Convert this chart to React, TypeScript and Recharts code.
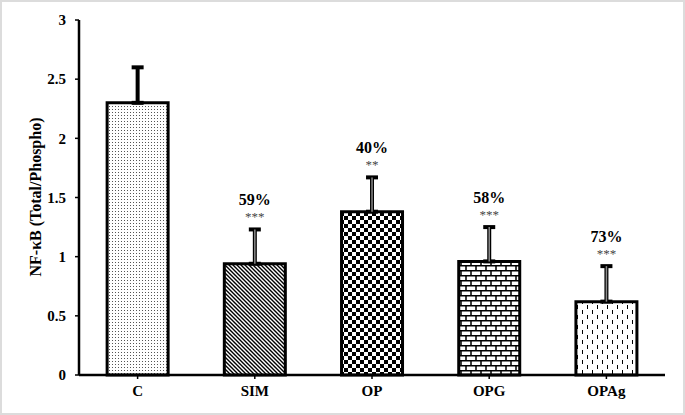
import { ComposedChart, Bar, Line, XAxis, YAxis, ErrorBar, Cell, LabelList, Label } from "recharts";

const groups = ["C", "SIM", "OP", "OPG", "OPAg"];
const means = [2.3, 0.94, 1.38, 0.96, 0.62];
const sems = [0.3, 0.29, 0.29, 0.29, 0.3];
const reductions = ["", "59%", "40%", "58%", "73%"];
const stars = ["", "***", "**", "***", "***"];
const yTicks = [0, 0.5, 1, 1.5, 2, 2.5, 3];

const patternIds = ["dots", "diag", "checks", "bricks", "dashes"];

const data = groups.map((g, i) => ({
  group: g,
  mean: means[i],
  err: [0, sems[i]],
  // grey core for the treated groups, control bar has a plain black one
  errCore: i === 0 ? [0, 0] : [0, sems[i]],
  top: means[i] + sems[i],
  pct: reductions[i],
  stars: stars[i],
}));

const FONT = "'Liberation Serif', 'Times New Roman', serif";

function SigLabel(props: any) {
  const { x, y, index } = props;
  const d = data[index];
  if (!d || !d.pct) return null;
  return (
    <g>
      <text x={x} y={y - 30} textAnchor="middle" dominantBaseline="central" fontFamily={FONT} fontWeight="bold" fontSize={16} fill="#000">
        {d.pct}
      </text>
      <text x={x} y={y - 13} textAnchor="middle" dominantBaseline="central" fontFamily={FONT} fontSize={13} fill="#444">
        {d.stars}
      </text>
    </g>
  );
}

export default function App() {
  return (
    <div style={{ position: "fixed", left: 0, top: 0, width: 685, height: 415, background: "#fff" }}>
      <ComposedChart width={685} height={415} data={data} margin={{ top: 20, right: 20, bottom: 10, left: 0 }} barCategoryGap="24%">
        <defs>
          <pattern id="dots" patternUnits="userSpaceOnUse" width={3} height={3}>
            <rect width={3} height={3} fill="#fff" />
            <rect x={1} y={1} width={1} height={1} fill="#555" />
          </pattern>
          <pattern id="diag" patternUnits="userSpaceOnUse" width={4} height={4}>
            <rect width={4} height={4} fill="#fff" />
            <path d="M-1,-1 L5,5 M3,-1 L5,1 M-1,3 L1,5" stroke="#000" strokeWidth={1.4} />
          </pattern>
          <pattern id="checks" patternUnits="userSpaceOnUse" width={8} height={8}>
            <rect width={8} height={8} fill="#fff" />
            <rect x={0} y={0} width={4} height={4} fill="#000" />
            <rect x={4} y={4} width={4} height={4} fill="#000" />
          </pattern>
          <pattern id="bricks" patternUnits="userSpaceOnUse" width={10} height={10}>
            <rect width={10} height={10} fill="#fff" />
            <path d="M0,0.75 H10 M0,5.75 H10 M1,0 V5 M6,5 V10" stroke="#000" strokeWidth={1.5} />
          </pattern>
          <pattern id="dashes" patternUnits="userSpaceOnUse" width={10} height={10}>
            <rect width={10} height={10} fill="#fff" />
            <path d="M2.5,0 V4 M7.5,5 V9" stroke="#000" strokeWidth={1} />
          </pattern>
        </defs>
        <XAxis
          dataKey="group"
          axisLine={{ stroke: "#000", strokeWidth: 2.5 }}
          tickLine={{ stroke: "#000", strokeWidth: 1.5 }}
          tickSize={4}
          tickMargin={6}
          tick={{ fill: "#000", fontFamily: FONT, fontWeight: "bold", fontSize: 15 }}
        />
        <YAxis
          width={79}
          domain={[0, 3]}
          ticks={yTicks}
          interval={0}
          axisLine={{ stroke: "#000", strokeWidth: 2.5 }}
          tickLine={{ stroke: "#000", strokeWidth: 1.5 }}
          tickSize={4}
          tickMargin={9}
          tick={{ fill: "#000", fontFamily: FONT, fontWeight: "bold", fontSize: 15 }}
        >
          <Label
            content={() => (
              <text x={35} y={197} transform="rotate(-90 35 197)" textAnchor="middle" dominantBaseline="central" fontFamily={FONT} fontWeight="bold" fontSize={16} fill="#000">
                NF-κB (Total/Phospho)
              </text>
            )}
          />
        </YAxis>
        <Bar dataKey="mean" stroke="#000" strokeWidth={3} isAnimationActive={false}>
          {data.map((d, i) => (
            <Cell key={d.group} fill={`url(#${patternIds[i]})`} />
          ))}
          <ErrorBar dataKey="err" width={6} stroke="#000" strokeWidth={4} direction="y" />
          <ErrorBar dataKey="errCore" width={0} stroke="#8a8a8a" strokeWidth={1.5} direction="y" />
        </Bar>
        <Line dataKey="top" stroke="none" dot={false} activeDot={false} isAnimationActive={false} legendType="none">
          <LabelList dataKey="pct" content={<SigLabel />} />
        </Line>
      </ComposedChart>
      <div style={{ position: "absolute", inset: 0, border: "2px solid #dcdcdc", pointerEvents: "none" }} />
    </div>
  );
}
